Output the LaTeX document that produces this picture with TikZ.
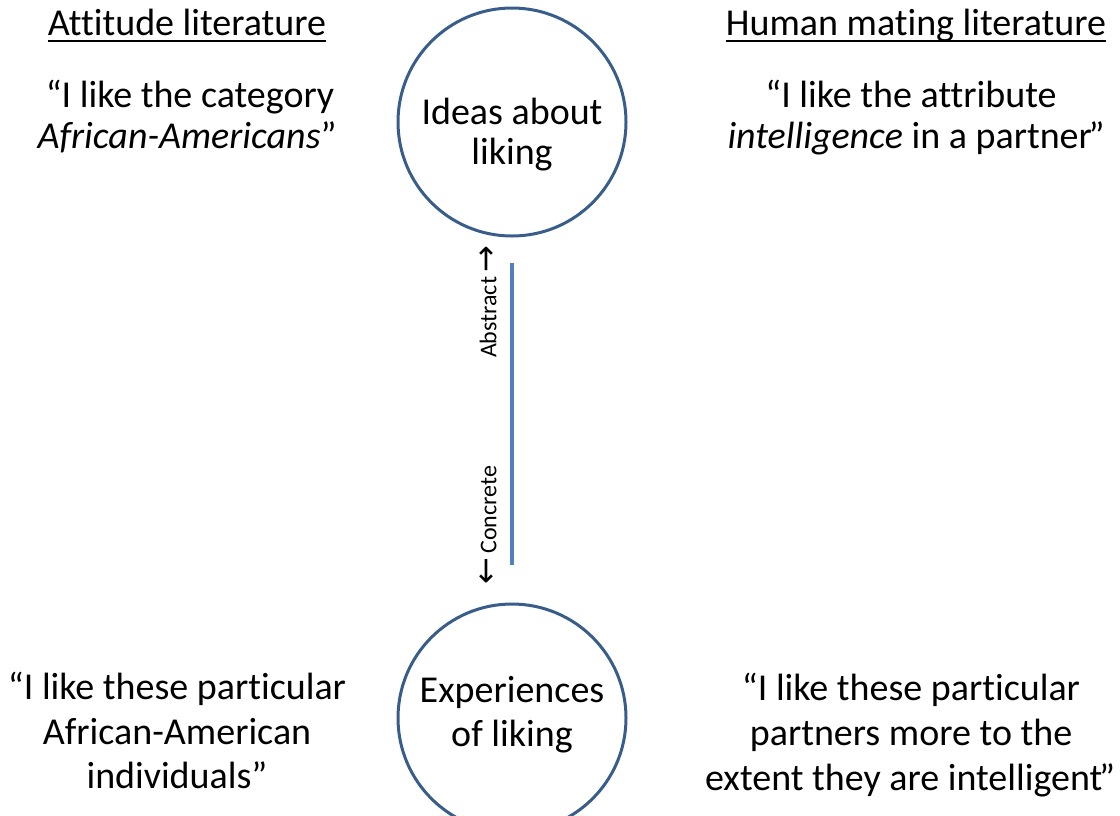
\documentclass[tikz,border=0pt]{standalone}
\usepackage{fontspec}
\setmainfont[Ligatures={NoCommon,NoContextual},RawFeature={-liga;-clig;-calt;-dlig}]{Carlito}
\newfontfamily\arrowfont{DejaVu Sans}
\definecolor{ringblue}{RGB}{56,93,138}
\definecolor{lineblue}{RGB}{79,129,189}
\begin{document}
\begin{tikzpicture}[x=0.75pt,y=-0.75pt,
  txt/.style={inner sep=0pt,anchor=base,font=\fontsize{28.5}{34}\selectfont},
  vlabel/.style={inner sep=0pt,font=\fontsize{18}{22}\selectfont,rotate=90},
  ring/.style={circle,draw=ringblue,line width=2.25pt,minimum size=171pt,inner sep=0pt},
  uline/.style={line width=1.4pt},
  axis/.style={draw=lineblue,line width=2.4pt}]
\useasboundingbox (0,0) rectangle (1120,815);
\clip (0,0) rectangle (1120,815);

% headings
\node[txt] (atth) at (187,35) {At{}titude literature};
\node[txt] (humh) at (916,35) {Human mating literature};
\draw[uline] ([yshift=-4.6pt]atth.base west) -- ([yshift=-4.6pt]atth.base east);
\draw[uline] ([yshift=-4.6pt]humh.base west) -- ([yshift=-4.6pt]humh.base east);

% top-left quote
\node[txt] (tl1) at (190,107) {“I like the category};
\node[txt] (tl2) at (187,148) {\itshape African-Americans\upshape”};

% top-right quote
\node[txt] (tr1) at (911,107) {“I like the at{}tribute};
\node[txt] (tr2) at (916,148) {\itshape intelligence\upshape{} in a partner\kern-2.5pt”};

% bottom-left quote
\node[txt] (bl1) at (177,699) {“I like these particular};
\node[txt] (bl2) at (177,744) {African-American};
\node[txt] (bl3) at (177,788) {individuals”};

% bottom-right quote
\node[txt] (br1) at (911,700) {“I like these particular};
\node[txt] (br2) at (911,745) {partners more to the};
\node[txt] (br3) at (910,790) {extent they are intelligent\kern-2.5pt”};

% circles
\node[ring] (ideas) at (512,122) {};
\node[txt] (id1) at (512,124) {Ideas about};
\node[txt] (id2) at (512,164) {liking};

\node[ring] (exper) at (512,718) {};
\node[txt] (ex1) at (512,702) {Experiences};
\node[txt] (ex2) at (512,746) {of liking};

% axis
\coordinate (atop) at (512,263);
\coordinate (abot) at (512,565);
\draw[axis] (atop) -- (abot);
\node[vlabel] (abs) at (488,302) {Abstract\,{\arrowfont\fontsize{24}{24}\selectfont→}};
\node[vlabel] (con) at (488,525) {{\arrowfont\fontsize{24}{24}\selectfont←}\,Concrete};
\end{tikzpicture}
\end{document}
